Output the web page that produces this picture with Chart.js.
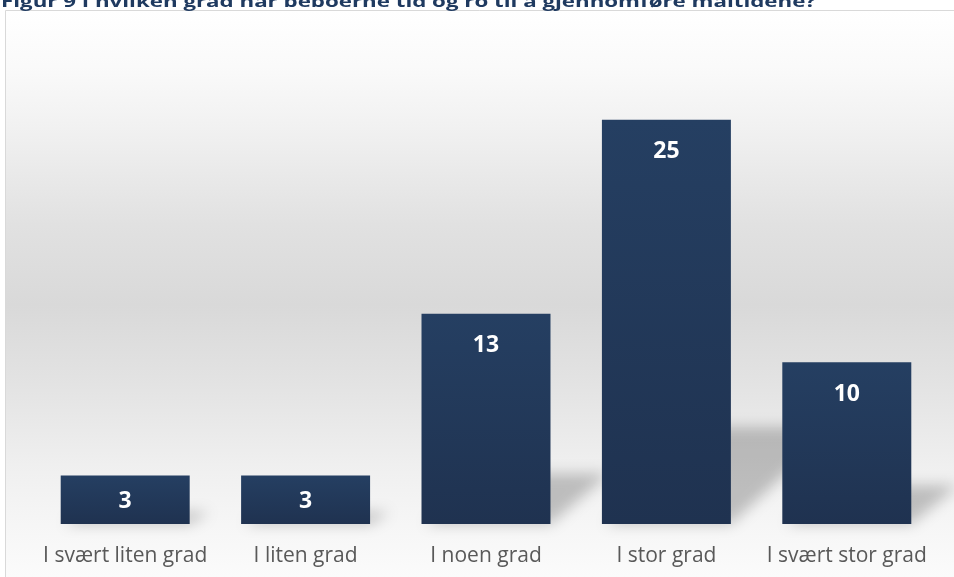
<!DOCTYPE html>
<html lang="no">
<head>
<meta charset="utf-8">
<title>Figur 9</title>
<script src="https://cdn.jsdelivr.net/npm/chart.js@4.4.1/dist/chart.umd.min.js"></script>
<style>
  html, body { margin: 0; padding: 0; background: #ffffff; overflow: hidden; }
  #chart { display: block; }
</style>
</head>
<body>
<canvas id="chart" width="954" height="588"></canvas>
<script>
// Svarfordeling, antall enheter
const categories = ['I svært liten grad', 'I liten grad', 'I noen grad', 'I stor grad', 'I svært stor grad'];
const values = [3, 3, 13, 25, 10];
const yMax = 30;
const titleText = 'Figur 9 I hvilken grad har beboerne tid og ro til å gjennomføre måltidene?';

// bakgrunn med gradient, ramme og (avkuttet) overskrift
const backdrop = {
    id: 'backdrop',
    beforeDraw(chart) {
        const ctx = chart.ctx;
        ctx.save();
        const g = ctx.createLinearGradient(0, 10, 0, 577);
        g.addColorStop(0.00, '#ffffff');
        g.addColorStop(0.10, '#fafafa');
        g.addColorStop(0.22, '#f0f0f0');
        g.addColorStop(0.38, '#e1e1e1');
        g.addColorStop(0.52, '#d9d9d9');
        g.addColorStop(0.66, '#e3e3e3');
        g.addColorStop(0.80, '#efefef');
        g.addColorStop(0.91, '#f6f6f6');
        g.addColorStop(1.00, '#fbfbfb');
        ctx.fillStyle = g;
        ctx.fillRect(5, 10, chart.width - 5, chart.height - 10);

        ctx.strokeStyle = '#d9d9d9';
        ctx.lineWidth = 1;
        ctx.beginPath();
        ctx.moveTo(5.5, chart.height);
        ctx.lineTo(5.5, 10.5);
        ctx.lineTo(chart.width, 10.5);
        ctx.stroke();

        ctx.font = 'bold 16px "Open Sans"';
        ctx.fillStyle = '#1f3a60';
        ctx.textBaseline = 'alphabetic';
        const w = ctx.measureText(titleText).width;
        ctx.translate(1, 7);
        ctx.scale(815 / w, 1);
        ctx.fillText(titleText, 0, 0);
        ctx.restore();
    }
};

// perspektivskygge bak hver søyle
const barShadows = {
    id: 'barShadows',
    beforeDatasetsDraw(chart) {
        const ctx = chart.ctx;
        const meta = chart.getDatasetMeta(0);
        ctx.save();
        ctx.filter = 'blur(7px)';
        ctx.fillStyle = 'rgba(0, 0, 0, 0.22)';
        meta.data.forEach(bar => {
            const h = bar.base - bar.y;
            const left = bar.x - bar.width / 2;
            const right = bar.x + bar.width / 2;
            const rise = h * 0.24;
            const shift = h * 0.24 + 8;
            ctx.beginPath();
            ctx.moveTo(left + 4, bar.base);
            ctx.lineTo(right, bar.base);
            ctx.lineTo(right + shift, bar.base - rise);
            ctx.lineTo(left + shift, bar.base - rise);
            ctx.closePath();
            ctx.fill();
        });
        ctx.restore();
    }
};

// verdietiketter inne i søylene
const valueLabels = {
    id: 'valueLabels',
    afterDatasetsDraw(chart) {
        const ctx = chart.ctx;
        const meta = chart.getDatasetMeta(0);
        ctx.save();
        ctx.font = 'bold 23px "Open Sans"';
        ctx.fillStyle = '#ffffff';
        ctx.textAlign = 'center';
        ctx.textBaseline = 'middle';
        meta.data.forEach((bar, i) => {
            const y = Math.min(bar.y + 32, (bar.y + bar.base) / 2 + 2);
            ctx.fillText(String(values[i]), bar.x, y);
        });
        ctx.restore();
    }
};

function barFill(context) {
    const chart = context.chart;
    if (!chart.chartArea || context.parsed === undefined) return '#223a5b';
    const yScale = chart.scales.y;
    const top = yScale.getPixelForValue(context.parsed.y);
    const base = yScale.getPixelForValue(0);
    if (!isFinite(top) || base - top < 1) return '#223a5b';
    const g = chart.ctx.createLinearGradient(0, top, 0, base);
    g.addColorStop(0, '#253f62');
    g.addColorStop(1, '#1f3250');
    return g;
}

new Chart(document.getElementById('chart'), {
    type: 'bar',
    data: {
        labels: categories,
        datasets: [{
            data: values,
            backgroundColor: barFill,
            borderWidth: 0,
            categoryPercentage: 1,
            barPercentage: 0.715
        }]
    },
    options: {
        responsive: false,
        animation: false,
        devicePixelRatio: 1,
        layout: {
            padding: { left: 35, right: 17, top: 39, bottom: 0 }
        },
        scales: {
            y: {
                display: false,
                min: 0,
                max: yMax
            },
            x: {
                grid: { display: false, drawTicks: false },
                border: { display: false },
                ticks: {
                    color: '#595959',
                    padding: 19.4,
                    font: { family: '"Open Sans"', size: 21 }
                }
            }
        },
        plugins: {
            legend: { display: false },
            tooltip: { enabled: false }
        }
    },
    plugins: [backdrop, barShadows, valueLabels]
});
</script>
</body>
</html>
